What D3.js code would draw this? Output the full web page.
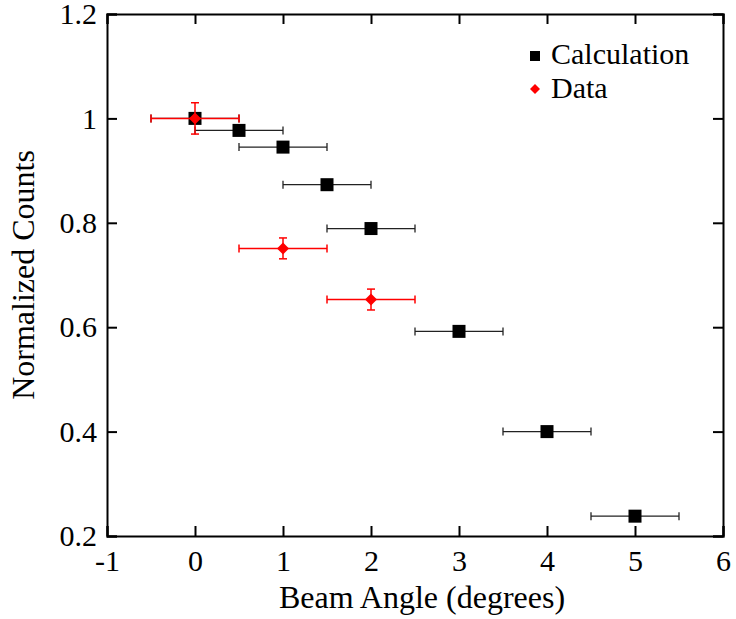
<!DOCTYPE html>
<html>
<head>
<meta charset="utf-8">
<script src="https://cdn.jsdelivr.net/npm/d3@7"></script>
<style>
  body { margin: 0; background: #fff; }
  svg { display: block; }
</style>
</head>
<body>
<svg id="chart" width="736" height="619"></svg>
<script>
// calculation points
var calcAngle = [0, 0.5, 1, 1.5, 2, 3, 4, 5];
var calcCounts = [1.0, 0.977, 0.945, 0.873, 0.789, 0.592, 0.400, 0.238];
var calcAngleErr = [0.5, 0.5, 0.5, 0.5, 0.5, 0.5, 0.5, 0.5];

// measured points
var dataAngle = [0, 1, 2];
var dataCounts = [1.0, 0.751, 0.653];
var dataAngleErr = [0.5, 0.5, 0.5];
var dataCountsErr = [0.03, 0.02, 0.02];

var xTicks = [-1, 0, 1, 2, 3, 4, 5, 6];
var yTicks = [0.2, 0.4, 0.6, 0.8, 1.0, 1.2];

var serif = "'Liberation Serif', 'Times New Roman', serif";

var margin = { left: 107, top: 14, right: 13, bottom: 83 },
  width = 736, height = 619;

var svg = d3.select("#chart");

var x = d3.scaleLinear().domain([-1, 6]).range([margin.left, width - margin.right]);
var y = d3.scaleLinear().domain([0.2, 1.2]).range([height - margin.bottom, margin.top]);

var calc = calcAngle.map(function(d, i) {
  return { x: d, y: calcCounts[i], xe: calcAngleErr[i] };
});
var meas = dataAngle.map(function(d, i) {
  return { x: d, y: dataCounts[i], xe: dataAngleErr[i], ye: dataCountsErr[i] };
});

var tickLen = 10;

// axes with inward ticks
svg.append("g")
  .attr("transform", "translate(0," + y.range()[0] + ")")
  .call(d3.axisBottom(x).tickValues(xTicks).tickSize(-tickLen).tickPadding(14)
    .tickFormat(function(d) { return String(d); }))
  .call(styleAxis);
svg.append("g")
  .attr("transform", "translate(0," + y.range()[1] + ")")
  .call(d3.axisTop(x).tickValues(xTicks).tickSize(-tickLen).tickFormat(""))
  .call(styleAxis);
svg.append("g")
  .attr("transform", "translate(" + x.range()[0] + ",0)")
  .call(d3.axisLeft(y).tickValues(yTicks).tickSize(-tickLen).tickPadding(10)
    .tickFormat(function(d) { return d === 1 ? "1" : d3.format(".1f")(d); }))
  .call(styleAxis);
svg.append("g")
  .attr("transform", "translate(" + x.range()[1] + ",0)")
  .call(d3.axisRight(y).tickValues(yTicks).tickSize(-tickLen).tickFormat(""))
  .call(styleAxis);

function styleAxis(g) {
  g.attr("font-family", null).attr("font-size", null);
  g.select(".domain").attr("stroke", "#000").attr("stroke-width", 2);
  g.selectAll(".tick line").attr("stroke", "#000").attr("stroke-width", 2);
  g.selectAll(".tick text").style("font-family", serif).style("font-size", "30px").attr("fill", "#000");
}

// axis titles
svg.append("text")
  .attr("x", 422)
  .attr("y", 608)
  .attr("text-anchor", "middle")
  .style("font-family", serif).style("font-size", "32px")
  .text("Beam Angle (degrees)");
svg.append("text")
  .attr("transform", "translate(34," + (y(0.7)) + ") rotate(-90)")
  .attr("text-anchor", "middle")
  .style("font-family", serif).style("font-size", "32px")
  .text("Normalized Counts");

var cap = 4;

// calculation error bars
var cg = svg.append("g");
cg.selectAll(".cbar").data(calc).enter().append("line")
  .attr("x1", function(d) { return x(d.x - d.xe); })
  .attr("x2", function(d) { return x(d.x + d.xe); })
  .attr("y1", function(d) { return y(d.y); })
  .attr("y2", function(d) { return y(d.y); })
  .attr("stroke", "#222").attr("stroke-width", 1.3);
cg.selectAll(".ccapl").data(calc).enter().append("line")
  .attr("x1", function(d) { return x(d.x - d.xe); })
  .attr("x2", function(d) { return x(d.x - d.xe); })
  .attr("y1", function(d) { return y(d.y) - cap; })
  .attr("y2", function(d) { return y(d.y) + cap; })
  .attr("stroke", "#222").attr("stroke-width", 1.3);
cg.selectAll(".ccapr").data(calc).enter().append("line")
  .attr("x1", function(d) { return x(d.x + d.xe); })
  .attr("x2", function(d) { return x(d.x + d.xe); })
  .attr("y1", function(d) { return y(d.y) - cap; })
  .attr("y2", function(d) { return y(d.y) + cap; })
  .attr("stroke", "#222").attr("stroke-width", 1.3);
cg.selectAll("rect").data(calc).enter().append("rect")
  .attr("x", function(d) { return x(d.x) - 6.5; })
  .attr("y", function(d) { return y(d.y) - 6.5; })
  .attr("width", 13).attr("height", 13)
  .attr("fill", "#000");

// data error bars
var red = "#ff0000";
var dg = svg.append("g");
dg.selectAll(".dx").data(meas).enter().append("line")
  .attr("x1", function(d) { return x(d.x - d.xe); })
  .attr("x2", function(d) { return x(d.x + d.xe); })
  .attr("y1", function(d) { return y(d.y); })
  .attr("y2", function(d) { return y(d.y); })
  .attr("stroke", red).attr("stroke-width", 1.5);
dg.selectAll(".dy").data(meas).enter().append("line")
  .attr("x1", function(d) { return x(d.x); })
  .attr("x2", function(d) { return x(d.x); })
  .attr("y1", function(d) { return y(d.y - d.ye); })
  .attr("y2", function(d) { return y(d.y + d.ye); })
  .attr("stroke", red).attr("stroke-width", 1.5);
[-1, 1].forEach(function(s) {
  dg.selectAll(".dxc" + s).data(meas).enter().append("line")
    .attr("x1", function(d) { return x(d.x + s * d.xe); })
    .attr("x2", function(d) { return x(d.x + s * d.xe); })
    .attr("y1", function(d) { return y(d.y) - cap; })
    .attr("y2", function(d) { return y(d.y) + cap; })
    .attr("stroke", red).attr("stroke-width", 1.5);
  dg.selectAll(".dyc" + s).data(meas).enter().append("line")
    .attr("x1", function(d) { return x(d.x) - cap; })
    .attr("x2", function(d) { return x(d.x) + cap; })
    .attr("y1", function(d) { return y(d.y + s * d.ye); })
    .attr("y2", function(d) { return y(d.y + s * d.ye); })
    .attr("stroke", red).attr("stroke-width", 1.5);
});
dg.selectAll("path").data(meas).enter().append("path")
  .attr("transform", function(d) { return "translate(" + x(d.x) + "," + y(d.y) + ")"; })
  .attr("d", "M0,-6L6,0L0,6L-6,0Z")
  .attr("fill", red);

// legend
var legend = svg.append("g").attr("transform", "translate(535,0)");
legend.append("rect").attr("x", -5).attr("y", 51).attr("width", 10).attr("height", 10).attr("fill", "#000");
legend.append("text").attr("x", 16).attr("y", 64)
  .style("font-family", serif).style("font-size", "30px").text("Calculation");
legend.append("path").attr("transform", "translate(0,89)").attr("d", "M0,-5L5,0L0,5L-5,0Z").attr("fill", red);
legend.append("text").attr("x", 16).attr("y", 98)
  .style("font-family", serif).style("font-size", "30px").text("Data");
</script>
</body>
</html>
